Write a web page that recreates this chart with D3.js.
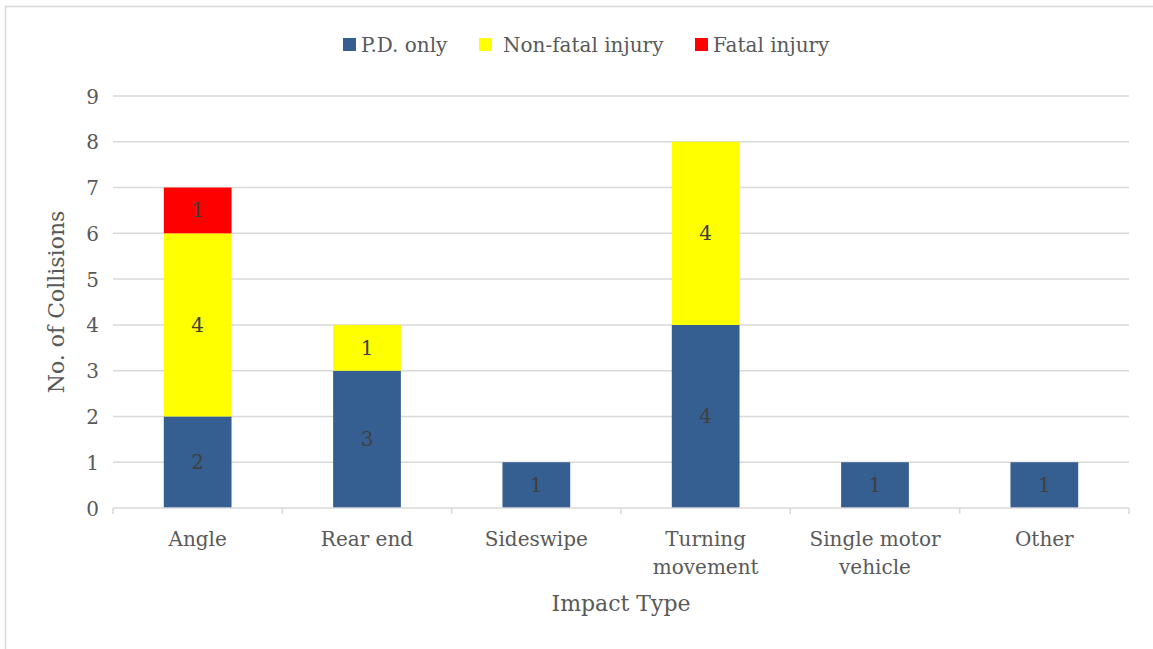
<!DOCTYPE html>
<html>
<head>
<meta charset="utf-8">
<script src="https://cdn.jsdelivr.net/npm/d3@7/dist/d3.min.js"></script>
<style>
  body { margin: 0; background: #fff; }
  svg text { font-family: "DejaVu Serif", serif; fill: #595959; }
</style>
</head>
<body>
<div id="chart"></div>
<script>
const width = 1153;
const height = 649;

/*
Data
*/
const categories = [["Angle"], ["Rear end"], ["Sideswipe"], ["Turning", "movement"], ["Single motor", "vehicle"], ["Other"]];
const seriesNames = ["P.D. only", "Non-fatal injury", "Fatal injury"];
const pdOnly = [2, 3, 1, 4, 1, 1];
const nonFatal = [4, 1, 0, 4, 0, 0];
const fatal = [1, 0, 0, 0, 0, 0];
const yTicks = [0, 1, 2, 3, 4, 5, 6, 7, 8, 9];
const colors = ["#355F91", "#FFFF00", "#FF0000"];

const svg = d3.select("#chart")
	.append("svg")
	.attr("width", width)
	.attr("height", height);

// chart frame
svg.append("rect")
	.attr("x", 5.5)
	.attr("y", 6.5)
	.attr("width", width + 10)
	.attr("height", height + 10)
	.attr("fill", "none")
	.attr("stroke", "#d9d9d9")
	.attr("stroke-width", 1.5);

const margin = {left: 113, right: 24, top: 96, bottom: 141};
const plotW = width - margin.left - margin.right;
const plotH = height - margin.top - margin.bottom;

const x = d3.scaleBand()
	.domain(d3.range(categories.length))
	.range([margin.left, margin.left + plotW])
	.paddingInner(0.6)
	.paddingOuter(0.3);
const y = d3.scaleLinear()
	.domain([0, 9])
	.range([margin.top + plotH, margin.top]);

/*
Gridlines
*/
svg.append("g")
	.selectAll("line")
	.data(yTicks.slice(1))
	.enter()
	.append("line")
	.attr("x1", margin.left)
	.attr("x2", margin.left + plotW)
	.attr("y1", (d) => y(d))
	.attr("y2", (d) => y(d))
	.attr("stroke", "#d9d9d9")
	.attr("stroke-width", 1.5);

/*
Y axis labels
*/
const yAxis = svg.append("g")
	.attr("transform", `translate(${margin.left - 14},0)`)
	.call(d3.axisLeft(y).tickValues(yTicks).tickSize(0).tickPadding(0));
yAxis.select(".domain").remove();
yAxis.selectAll("text")
	.attr("font-size", 20)
	.attr("dy", "0.35em")
	.style("font-family", "DejaVu Serif")
	.attr("fill", "#595959");

/*
Stacked bars
*/
const table = categories.map((c, i) => ({
	idx: i,
	"P.D. only": pdOnly[i],
	"Non-fatal injury": nonFatal[i],
	"Fatal injury": fatal[i]
}));
const stacked = d3.stack().keys(seriesNames)(table);

const layers = svg.selectAll(".layer")
	.data(stacked)
	.enter()
	.append("g")
	.attr("class", "layer")
	.attr("fill", (d, i) => colors[i]);

layers.selectAll("rect")
	.data((d) => d.filter((p) => p[1] - p[0] > 0))
	.enter()
	.append("rect")
	.attr("x", (d) => x(d.data.idx))
	.attr("width", x.bandwidth())
	.attr("y", (d) => y(d[1]))
	.attr("height", (d) => y(d[0]) - y(d[1]));

layers.selectAll("text")
	.data((d) => d.filter((p) => p[1] - p[0] > 0))
	.enter()
	.append("text")
	.attr("x", (d) => x(d.data.idx) + x.bandwidth() / 2)
	.attr("y", (d) => (y(d[0]) + y(d[1])) / 2)
	.attr("dy", "0.35em")
	.attr("text-anchor", "middle")
	.attr("font-size", 20)
	.style("fill", "#404040")
	.text((d) => d[1] - d[0]);

/*
X axis
*/
const axisY = y(0);
svg.append("line")
	.attr("x1", margin.left)
	.attr("x2", margin.left + plotW)
	.attr("y1", axisY)
	.attr("y2", axisY)
	.attr("stroke", "#d9d9d9")
	.attr("stroke-width", 1.5);

const step = x.step();
const boundaries = d3.range(categories.length + 1).map((i) => margin.left + i * step);
svg.append("g")
	.selectAll("line")
	.data(boundaries)
	.enter()
	.append("line")
	.attr("x1", (d) => d)
	.attr("x2", (d) => d)
	.attr("y1", axisY)
	.attr("y2", axisY + 6)
	.attr("stroke", "#d9d9d9")
	.attr("stroke-width", 1.5);

const catLabels = svg.append("g")
	.selectAll("text")
	.data(categories)
	.enter()
	.append("text")
	.attr("text-anchor", "middle")
	.attr("font-size", 20)
	.attr("y", axisY + 38);
catLabels.selectAll("tspan")
	.data((d, i) => d.map((line) => ({line: line, i: i})))
	.enter()
	.append("tspan")
	.attr("x", (d) => x(d.i) + x.bandwidth() / 2)
	.attr("dy", (d, j) => j === 0 ? 0 : 28)
	.text((d) => d.line);

/*
Axis titles
*/
svg.append("text")
	.attr("x", margin.left + plotW / 2)
	.attr("y", 611)
	.attr("text-anchor", "middle")
	.attr("font-size", 22)
	.text("Impact Type");

svg.append("text")
	.attr("transform", `translate(64, ${margin.top + plotH / 2}) rotate(-90)`)
	.attr("text-anchor", "middle")
	.attr("font-size", 22)
	.text("No. of Collisions");

/*
Legend
*/
const legendX = [343, 479, 695];
const legend = svg.append("g")
	.selectAll("g")
	.data(seriesNames)
	.enter()
	.append("g")
	.attr("transform", (d, i) => `translate(${legendX[i]}, 38)`);
legend.append("rect")
	.attr("width", 13)
	.attr("height", 13)
	.attr("fill", (d, i) => colors[i]);
legend.append("text")
	.attr("x", (d, i) => i === 1 ? 24 : 18)
	.attr("y", 7)
	.attr("dy", "0.35em")
	.attr("font-size", 20)
	.text((d) => d);
</script>
</body>
</html>
